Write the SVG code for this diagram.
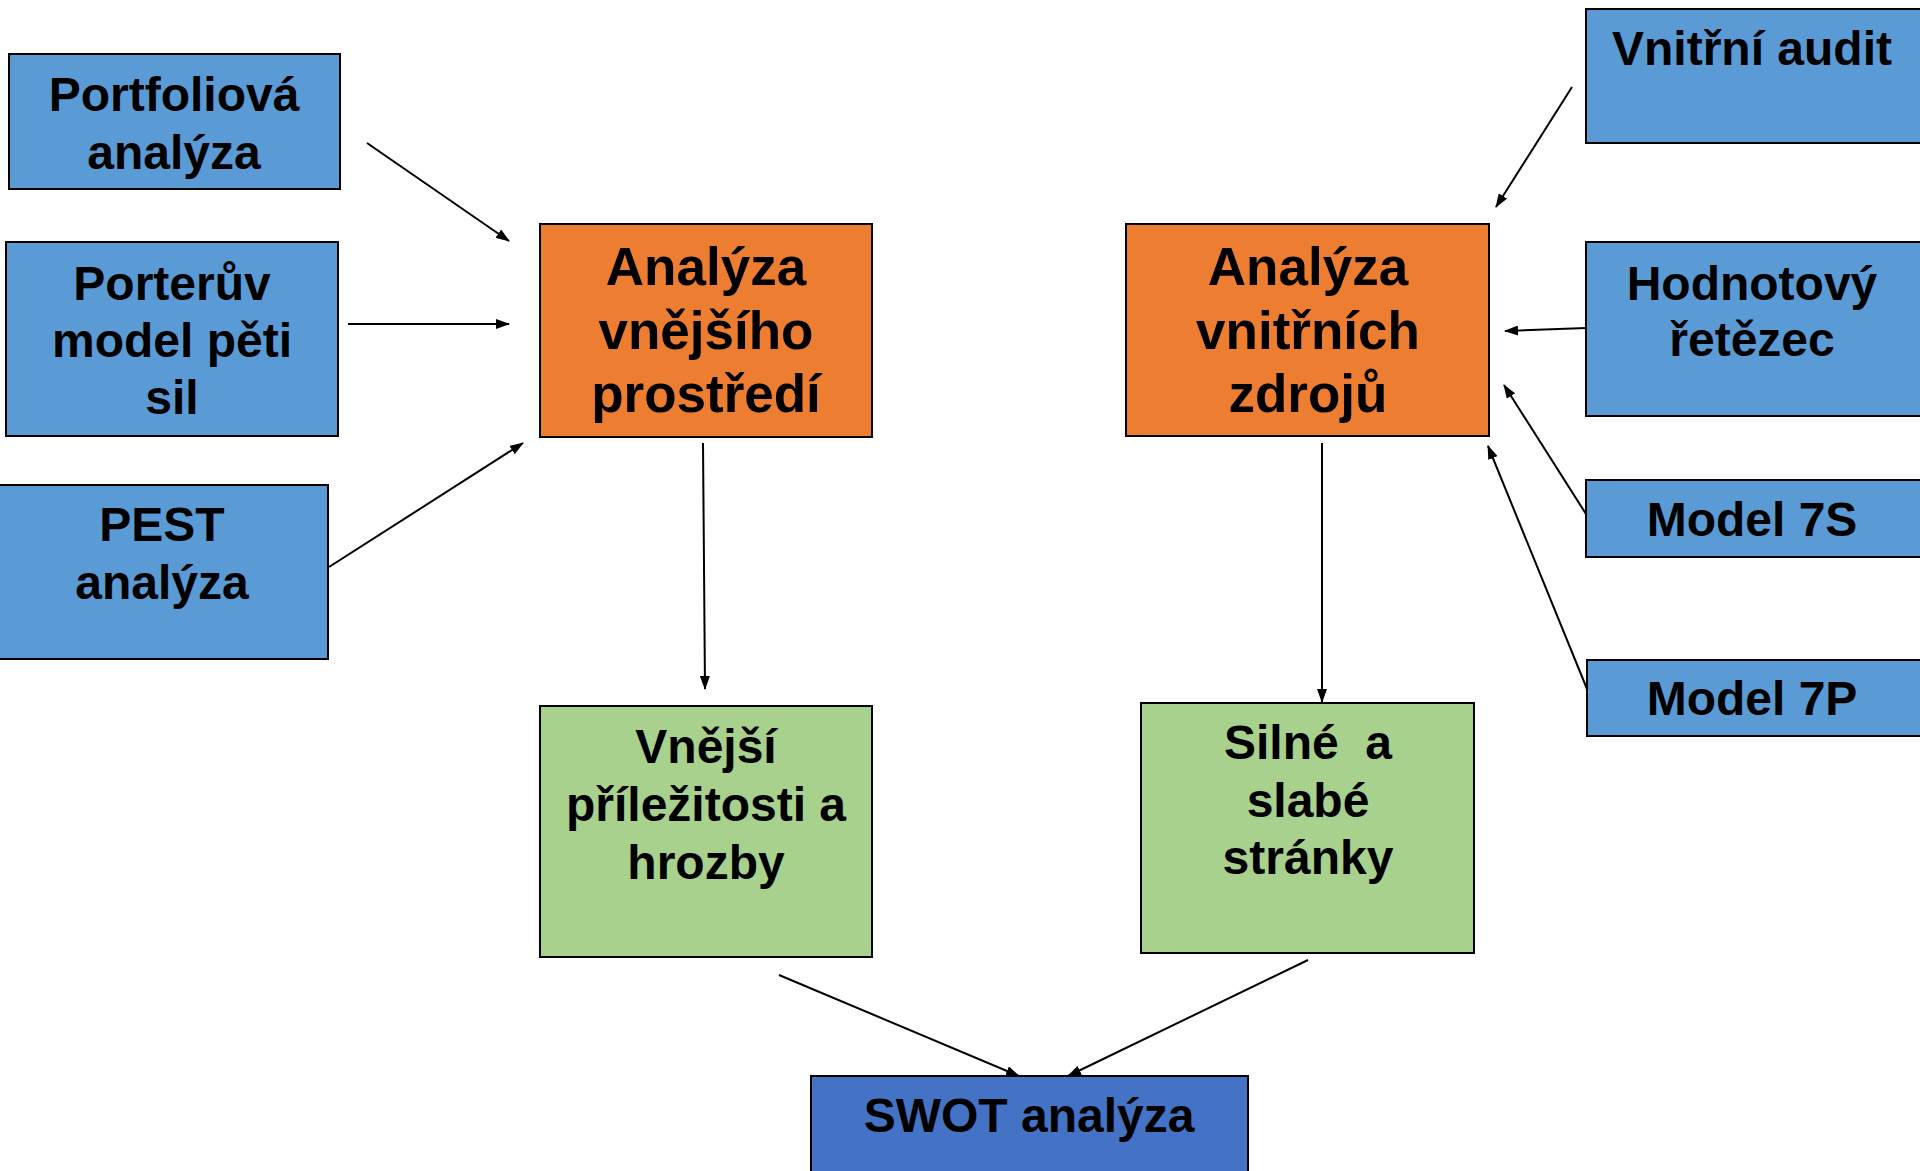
<svg xmlns="http://www.w3.org/2000/svg" width="1920" height="1171" viewBox="0 0 1920 1171">
<style>
.box{stroke:#000;stroke-width:2}
.blue{fill:#5B9BD5}
.orange{fill:#ED7D31}
.green{fill:#A9D18E}
.dblue{fill:#4472C4}
text{font-family:"Liberation Sans",Arial,sans-serif;font-weight:bold;fill:#000;text-anchor:middle;white-space:pre}
.t48{font-size:48px}
.t53{font-size:53px}
.conn line{stroke:#000;stroke-width:2;fill:none}
</style>
<defs>
<marker id="ah" markerWidth="14" markerHeight="10" refX="13" refY="5" orient="auto" markerUnits="userSpaceOnUse">
<path d="M0,0 L14,5 L0,10 Z" fill="#000"/>
</marker>
</defs>
<rect width="1920" height="1171" fill="#fff"/>

<g id="portfolio">
<rect class="box blue" x="9" y="54" width="331" height="135"/>
<text class="t48" x="174" y="111">Portfoliová</text>
<text class="t48" x="174" y="169">analýza</text>
</g>
<g id="porter">
<rect class="box blue" x="6" y="242" width="332" height="194"/>
<text class="t48" x="172" y="300">Porterův</text>
<text class="t48" x="172" y="357">model pěti</text>
<text class="t48" x="172" y="414">sil</text>
</g>
<g id="pest">
<rect class="box blue" x="-2" y="485" width="330" height="174"/>
<text class="t48" x="162" y="541">PEST</text>
<text class="t48" x="162" y="599">analýza</text>
</g>
<g id="vnejsi">
<rect class="box orange" x="540" y="224" width="332" height="213"/>
<text class="t53" x="706" y="285">Analýza</text>
<text class="t53" x="706" y="349">vnějšího</text>
<text class="t53" x="706" y="412">prostředí</text>
</g>
<g id="vnitrni">
<rect class="box orange" x="1126" y="224" width="363" height="212"/>
<text class="t53" x="1308" y="285">Analýza</text>
<text class="t53" x="1308" y="349">vnitřních</text>
<text class="t53" x="1308" y="412">zdrojů</text>
</g>
<g id="audit">
<rect class="box blue" x="1586" y="9" width="336" height="134"/>
<text class="t48" x="1752" y="65">Vnitřní audit</text>
</g>
<g id="hodnotovy">
<rect class="box blue" x="1586" y="242" width="336" height="174"/>
<text class="t48" x="1752" y="300">Hodnotový</text>
<text class="t48" x="1752" y="356">řetězec</text>
</g>
<g id="model7s">
<rect class="box blue" x="1586" y="480" width="336" height="77"/>
<text class="t48" x="1752" y="536">Model 7S</text>
</g>
<g id="model7p">
<rect class="box blue" x="1587" y="660" width="335" height="76"/>
<text class="t48" x="1752" y="715">Model 7P</text>
</g>
<g id="prilezitosti">
<rect class="box green" x="540" y="706" width="332" height="251"/>
<text class="t48" x="706" y="763">Vnější</text>
<text class="t48" x="706" y="821">příležitosti a</text>
<text class="t48" x="706" y="879">hrozby</text>
</g>
<g id="silne">
<rect class="box green" x="1141" y="703" width="333" height="250"/>
<text class="t48" x="1308" y="759">Silné  a</text>
<text class="t48" x="1308" y="817">slabé</text>
<text class="t48" x="1308" y="874">stránky</text>
</g>
<g id="swot">
<rect class="box dblue" x="811" y="1076" width="437" height="110"/>
<text class="t48" x="1029" y="1132">SWOT analýza</text>
</g>

<g id="connectors" class="conn">
<line x1="367" y1="143" x2="509" y2="241" marker-end="url(#ah)"/>
<line x1="348" y1="324" x2="509" y2="324" marker-end="url(#ah)"/>
<line x1="329" y1="567" x2="523" y2="443" marker-end="url(#ah)"/>
<line x1="703" y1="443" x2="705" y2="689" marker-end="url(#ah)"/>
<line x1="1572" y1="87" x2="1496" y2="207" marker-end="url(#ah)"/>
<line x1="1586" y1="328" x2="1505" y2="331" marker-end="url(#ah)"/>
<line x1="1586" y1="514" x2="1504" y2="385" marker-end="url(#ah)"/>
<line x1="1587" y1="689" x2="1488" y2="446" marker-end="url(#ah)"/>
<line x1="1322" y1="443" x2="1322" y2="702" marker-end="url(#ah)"/>
<line x1="779" y1="975" x2="1019" y2="1076" marker-end="url(#ah)"/>
<line x1="1308" y1="960" x2="1068" y2="1076" marker-end="url(#ah)"/>
</g>
</svg>
